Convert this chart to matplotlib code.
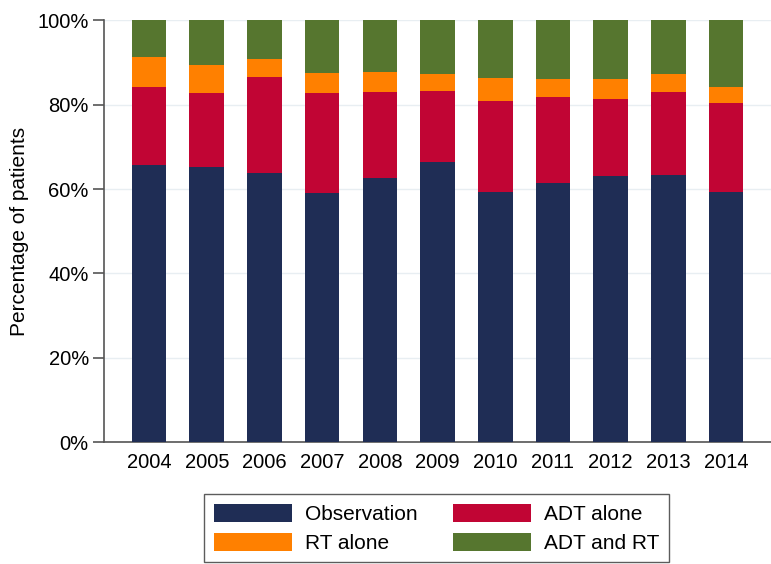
import numpy as np
import matplotlib
matplotlib.use("Agg")
import matplotlib.pyplot as plt
from matplotlib.ticker import PercentFormatter

plt.rcParams['font.family'] = ['Liberation Sans', 'DejaVu Sans']

years = ['2004', '2005', '2006', '2007', '2008', '2009', '2010', '2011', '2012', '2013', '2014']
observation = [65.6, 65.3, 63.7, 59.0, 62.7, 66.5, 59.4, 61.5, 63.2, 63.3, 59.2]
adt_alone = [18.7, 17.5, 22.9, 23.8, 20.3, 16.7, 21.4, 20.3, 18.1, 19.6, 21.3]
rt_alone = [6.9, 6.5, 4.2, 4.6, 4.7, 4.0, 5.6, 4.4, 4.8, 4.4, 3.8]
adt_rt = [8.8, 10.7, 9.2, 12.6, 12.3, 12.8, 13.6, 13.8, 13.9, 12.7, 15.7]

labels = ['Observation', 'ADT alone', 'RT alone', 'ADT and RT']
colors = ['#1f2d55', '#c10534', '#ff8000', '#56762f']

fig = plt.figure(figsize=(7.71, 5.64), dpi=100)
ax = fig.add_axes([0.135, 0.216, 0.865, 0.748])

x = np.arange(len(years))
bottom = np.zeros(len(years))
bars = []
for vals, lab, col in zip([observation, adt_alone, rt_alone, adt_rt], labels, colors):
    b = ax.bar(x, vals, 0.6, bottom=bottom, color=col, label=lab, zorder=3)
    bars.append(b)
    bottom += np.array(vals)

ax.set_xlim(-0.78, 10.78)
ax.set_ylim(0, 100)
ax.set_yticks([0, 20, 40, 60, 80, 100])
ax.yaxis.set_major_formatter(PercentFormatter(decimals=0))
ax.set_xticks(x)
ax.set_xticklabels(years)
ax.tick_params(axis='x', length=0, labelsize=14.5, pad=8)
ax.tick_params(axis='y', length=8, width=1.2, color='#555555', labelsize=14.5, pad=3)
ax.yaxis.grid(True, color='#e8eef2', linewidth=1.0, zorder=0)
ax.set_ylabel('Percentage of patients', fontsize=15, labelpad=6)

for s in ['top', 'right']:
    ax.spines[s].set_visible(False)
for s in ['left', 'bottom']:
    ax.spines[s].set_color('#555555')
    ax.spines[s].set_linewidth(1.2)

# legend order row-wise: Observation, ADT alone / RT alone, ADT and RT
handles = [bars[0], bars[2], bars[1], bars[3]]
leg_labels = [labels[0], labels[2], labels[1], labels[3]]
leg = fig.legend(handles, leg_labels, ncol=2, loc='center',
                 bbox_to_anchor=(0.566, 0.063), fontsize=15,
                 frameon=True, fancybox=False, edgecolor='#333333',
                 handlelength=3.75, handleheight=1.0, columnspacing=1.7,
                 handletextpad=0.62, borderpad=0.45, labelspacing=0.4)
leg.get_frame().set_linewidth(1.0)

fig.savefig('out.png', dpi=100)
